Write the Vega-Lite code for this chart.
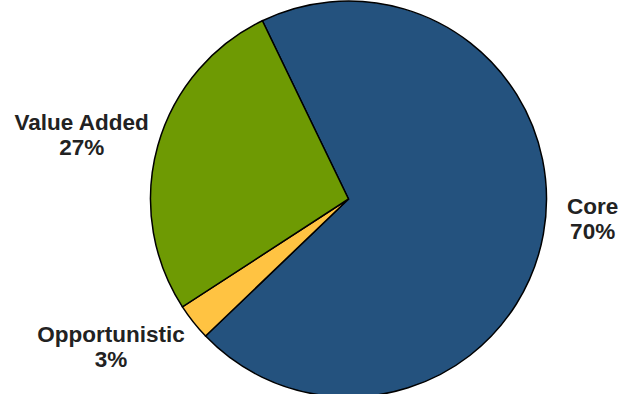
{
  "$schema": "https://vega.github.io/schema/vega-lite/v6.json",
  "width": 545,
  "height": 390,
  "autosize": "none",
  "padding": {"left": 76, "top": 4, "right": 0, "bottom": 0},
  "background": "white",
  "data": {
    "values": [
      {"segment": "Core", "share": 70, "order": 1, "pct": "70%"},
      {"segment": "Opportunistic", "share": 3, "order": 2, "pct": "3%"},
      {"segment": "Value Added", "share": 27, "order": 3, "pct": "27%"}
    ]
  },
  "encoding": {
    "theta": {"field": "share", "type": "quantitative", "stack": true, "scale": {"range": [-0.45, 5.833]}},
    "order": {"field": "order", "type": "quantitative"}
  },
  "layer": [
    {
      "mark": {"type": "arc", "outerRadius": 198, "stroke": "#000000", "strokeWidth": 1.5},
      "encoding": {
        "color": {
          "field": "segment",
          "type": "nominal",
          "scale": {"domain": ["Core", "Opportunistic", "Value Added"], "range": ["#24527e", "#ffc342", "#6e9a03"]},
          "legend": null
        }
      }
    },
    {
      "mark": {"type": "text", "radius": 244, "dx": 4, "dy": -35, "fontSize": 22.5, "fontWeight": "bold", "font": "Liberation Sans", "color": "#222222", "lineHeight": 25, "baseline": "middle", "align": "center"},
      "encoding": {"text": {"condition": {"test": "datum.segment === 'Core'", "value": ["Core", "70%"]}, "value": ""}}
    },
    {
      "mark": {"type": "text", "radius": 276, "dy": -2, "dx": -1, "fontSize": 22.5, "fontWeight": "bold", "font": "Liberation Sans", "color": "#222222", "lineHeight": 25, "baseline": "middle", "align": "center"},
      "encoding": {"text": {"condition": {"test": "datum.segment === 'Value Added'", "value": ["Value Added", "27%"]}, "value": ""}}
    },
    {
      "mark": {"type": "text", "radius": 280, "dx": -18, "dy": -38, "fontSize": 22.5, "fontWeight": "bold", "font": "Liberation Sans", "color": "#222222", "lineHeight": 25, "baseline": "middle", "align": "center"},
      "encoding": {"text": {"condition": {"test": "datum.segment === 'Opportunistic'", "value": ["Opportunistic", "3%"]}, "value": ""}}
    }
  ]
}
